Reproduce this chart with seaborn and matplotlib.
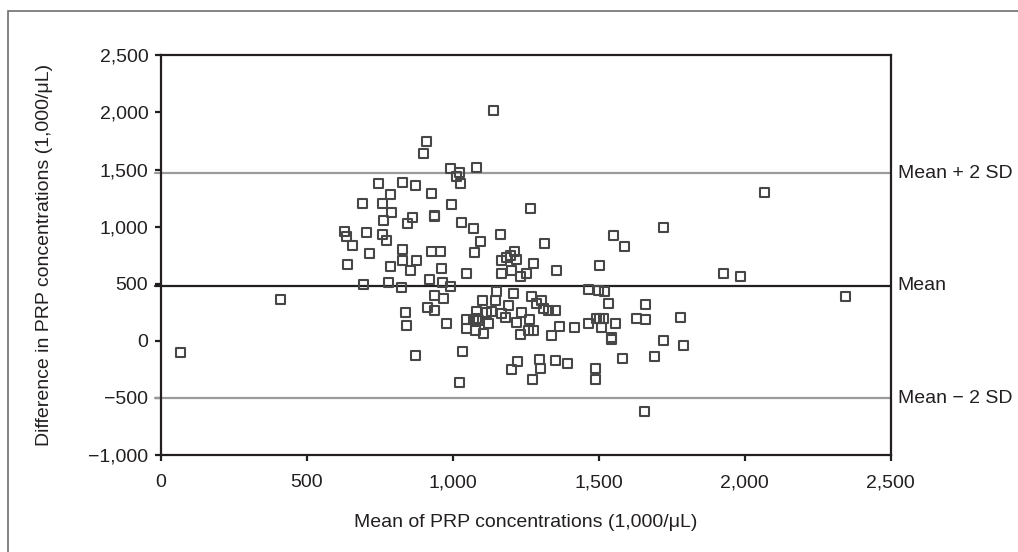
import matplotlib
matplotlib.use('Agg')
import matplotlib.pyplot as plt
import matplotlib.patches as mpatches
from matplotlib.ticker import FuncFormatter, MultipleLocator
import seaborn as sns
import pandas as pd

# Bland-Altman data (1,000/uL)
mean_conc = [
    1141, 909, 899, 993, 1023, 1014, 1028, 1080, 747, 827,
    873, 788, 926, 692, 759, 997, 1267, 791, 936, 938,
    863, 846, 764, 1031, 1070, 1164, 1096, 629, 635, 656,
    704, 760, 773, 713, 829, 926, 957, 1073, 641, 788,
    827, 874, 962, 854, 1046, 694, 781, 825, 920, 965,
    991, 937, 968, 914, 937, 837, 840, 977, 409, 67,
    871, 1033, 1022,
    1210, 1196, 1217, 1168, 1185, 1276, 1313, 1168, 1202, 1231,
    1253, 1356, 1150, 1208, 1270, 1288, 1305, 1310, 1328, 1351,
    1103, 1145, 1190, 1080, 1117, 1134, 1168, 1180, 1236, 1048,
    1071, 1088, 1082, 1122, 1217, 1263, 1048, 1077, 1105, 1231,
    1259, 1276, 1339, 1366, 1417, 1223, 1202, 1296, 1299, 1351,
    1394, 1273,
    1502, 1589, 1927, 1987, 2344, 1465, 1465, 1499, 1518, 1533,
    1493, 1504, 1516, 1510, 1558, 1542, 1542, 1630, 1659, 1661,
    1779, 1721, 1790, 1691, 1581, 1488, 1490, 1655, 2067, 1721,
    1550,
]
diff_conc = [
    2018, 1748, 1638, 1512, 1471, 1441, 1375, 1517, 1375, 1389,
    1360, 1278, 1287, 1205, 1205, 1193, 1158, 1125, 1100, 1085,
    1082, 1029, 1055, 1032, 982, 930, 874, 956, 910, 833,
    953, 930, 880, 763, 804, 778, 778, 775, 670, 647,
    704, 704, 637, 617, 588, 491, 515, 468, 541, 515,
    477, 397, 368, 296, 263, 252, 131, 149, 366, -99,
    -129, -94, -362,
    783, 748, 716, 704, 734, 673, 850, 594, 617, 559,
    588, 620, 432, 415, 389, 325, 350, 287, 266, 266,
    354, 354, 313, 257, 248, 257, 237, 205, 248, 184,
    184, 178, 199, 152, 160, 184, 104, 93, 67, 53,
    93, 93, 44, 123, 114, -185, -254, -167, -240, -176,
    -196, -342,
    662, 825, 588, 564, 389, 155, 453, 441, 432, 330,
    199, 199, 199, 120, 155, 32, 15, 199, 190, 316,
    205, 1, -41, -138, -152, -246, -336, -623, 1296, 994,
    924,
]

mean_diff = 483
upper_loa = 1468
lower_loa = -502
ref_lines = [upper_loa, mean_diff, lower_loa]
ref_labels = ['Mean + 2 SD', 'Mean', 'Mean \u2212 2 SD']
ref_colors = ['#9b9b9b', '#231f20', '#9b9b9b']

df = pd.DataFrame({'mean': mean_conc, 'diff': diff_conc})

sns.set_style('white')
plt.rcParams['font.family'] = ['Liberation Sans', 'DejaVu Sans']
plt.rcParams['axes.unicode_minus'] = True

fig = plt.figure(figsize=(10.18, 5.52), dpi=100)
ax = fig.add_axes([0.158, 0.1757, 0.717, 0.724])

for val, lab, col in zip(ref_lines, ref_labels, ref_colors):
    ax.axhline(val, xmin=-0.008, xmax=1, color=col, lw=1.6, clip_on=False, zorder=1)
    ax.text(1.0096, val, lab, transform=ax.get_yaxis_transform(),
            ha='left', va='center', fontsize=14, color='#231f20')

sns.scatterplot(data=df, x='mean', y='diff', ax=ax, marker='s', s=42,
                facecolor='none', edgecolor='#474747', linewidth=1.5, zorder=3)

ax.set_xlim(0, 2500)
ax.set_ylim(-1000, 2500)
ax.xaxis.set_major_locator(MultipleLocator(500))
ax.yaxis.set_major_locator(MultipleLocator(500))
fmt = FuncFormatter(lambda v, p: f'{v:,.0f}'.replace('-', '\u2212'))
ax.xaxis.set_major_formatter(fmt)
ax.yaxis.set_major_formatter(fmt)

for sp in ax.spines.values():
    sp.set_color('#231f20')
    sp.set_linewidth(1.6)

ax.tick_params(axis='both', which='major', direction='out', length=4, width=1.6,
               color='#231f20', labelsize=14, labelcolor='#231f20')
ax.tick_params(axis='x', pad=10, bottom=True)
ax.tick_params(axis='y', pad=5, left=True)

ax.set_xlabel('Mean of PRP concentrations (1,000/\u03bcL)', fontsize=14, color='#231f20')
ax.set_ylabel('Difference in PRP concentrations (1,000/\u03bcL)', fontsize=14, color='#231f20')
ax.xaxis.set_label_coords(0.5, -0.148)
ax.yaxis.set_label_coords(-0.148, 0.5)

# frame around the figure (only left and top edges fall inside the crop)
frame = mpatches.Rectangle((8 / 1018, -0.2), 1.3, 1.2 - 11 / 552, transform=fig.transFigure,
                           fill=False, edgecolor='#6e6e6e', lw=1.2, clip_on=False)
fig.patches.append(frame)

fig.savefig('out.png', dpi=100)
